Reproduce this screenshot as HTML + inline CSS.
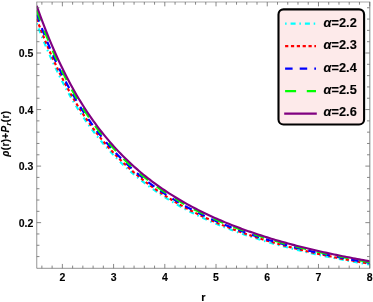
<!DOCTYPE html>
<html><head><meta charset="utf-8"><style>
html,body{margin:0;padding:0;background:#fff;}
text{stroke:#000;stroke-width:0.12px;}
svg{display:block;will-change:transform;font-family:"Liberation Sans",sans-serif;}
</style></head><body>
<svg width="373" height="302" viewBox="0 0 373 302">
<rect width="373" height="302" fill="#fff"/>
<defs><clipPath id="c"><rect x="36.75" y="2.0" width="332.95" height="266.3"/></clipPath></defs>
<g clip-path="url(#c)">
<path d="M36.75 23.28 L38.84 28.82 L40.94 34.21 L43.03 39.45 L45.13 44.56 L47.22 49.52 L49.31 54.36 L51.41 59.07 L53.50 63.65 L55.60 68.12 L57.69 72.46 L59.78 76.69 L61.88 80.81 L63.97 84.82 L66.07 88.73 L68.16 92.53 L70.25 96.23 L72.35 99.84 L74.44 103.35 L76.54 106.78 L78.63 110.11 L80.72 113.36 L82.82 116.53 L84.91 119.62 L87.01 122.63 L89.10 125.57 L91.19 128.44 L93.29 131.23 L95.38 133.96 L97.48 136.63 L99.57 139.23 L101.66 141.77 L103.76 144.25 L105.85 146.67 L107.95 149.04 L110.04 151.35 L112.13 153.61 L114.23 155.82 L116.32 157.98 L118.42 160.10 L120.51 162.16 L122.61 164.19 L124.70 166.17 L126.79 168.10 L128.89 170.00 L130.98 171.86 L133.08 173.67 L135.17 175.45 L137.26 177.20 L139.36 178.91 L141.45 180.58 L143.55 182.22 L145.64 183.83 L147.73 185.41 L149.83 186.95 L151.92 188.47 L154.02 189.95 L156.11 191.41 L158.20 192.84 L160.30 194.25 L162.39 195.62 L164.49 196.98 L166.58 198.30 L168.67 199.61 L170.77 200.88 L172.86 202.14 L174.96 203.37 L177.05 204.59 L179.14 205.78 L181.24 206.95 L183.33 208.10 L185.43 209.23 L187.52 210.34 L189.61 211.43 L191.71 212.50 L193.80 213.56 L195.90 214.59 L197.99 215.62 L200.08 216.62 L202.18 217.61 L204.27 218.58 L206.37 219.53 L208.46 220.47 L210.55 221.40 L212.65 222.31 L214.74 223.21 L216.84 224.09 L218.93 224.96 L221.02 225.82 L223.12 226.66 L225.21 227.49 L227.31 228.31 L229.40 229.11 L231.49 229.91 L233.59 230.69 L235.68 231.46 L237.78 232.22 L239.87 232.96 L241.96 233.70 L244.06 234.43 L246.15 235.14 L248.25 235.85 L250.34 236.55 L252.43 237.23 L254.53 237.91 L256.62 238.58 L258.72 239.24 L260.81 239.88 L262.90 240.53 L265.00 241.16 L267.09 241.78 L269.19 242.40 L271.28 243.00 L273.37 243.60 L275.47 244.19 L277.56 244.78 L279.66 245.35 L281.75 245.92 L283.84 246.48 L285.94 247.03 L288.03 247.58 L290.13 248.12 L292.22 248.65 L294.32 249.18 L296.41 249.70 L298.50 250.21 L300.60 250.72 L302.69 251.22 L304.79 251.72 L306.88 252.21 L308.97 252.69 L311.07 253.17 L313.16 253.64 L315.26 254.10 L317.35 254.56 L319.44 255.02 L321.54 255.47 L323.63 255.91 L325.73 256.35 L327.82 256.79 L329.91 257.22 L332.01 257.64 L334.10 258.06 L336.20 258.48 L338.29 258.89 L340.38 259.29 L342.48 259.69 L344.57 260.09 L346.67 260.48 L348.76 260.87 L350.85 261.26 L352.95 261.64 L355.04 262.01 L357.14 262.38 L359.23 262.75 L361.32 263.12 L363.42 263.48 L365.51 263.83 L367.61 264.19 L369.70 264.53" fill="none" stroke="#00ffff" stroke-width="2.15" stroke-dasharray="1.5 4 5 3.8"/>
<path d="M36.75 18.90 L38.84 24.55 L40.94 30.04 L43.03 35.38 L45.13 40.57 L47.22 45.62 L49.31 50.54 L51.41 55.33 L53.50 60.00 L55.60 64.53 L57.69 68.95 L59.78 73.25 L61.88 77.44 L63.97 81.51 L66.07 85.48 L68.16 89.34 L70.25 93.10 L72.35 96.77 L74.44 100.33 L76.54 103.81 L78.63 107.20 L80.72 110.50 L82.82 113.71 L84.91 116.85 L87.01 119.91 L89.10 122.89 L91.19 125.80 L93.29 128.64 L95.38 131.41 L97.48 134.11 L99.57 136.75 L101.66 139.32 L103.76 141.84 L105.85 144.30 L107.95 146.70 L110.04 149.04 L112.13 151.34 L114.23 153.58 L116.32 155.77 L118.42 157.92 L120.51 160.01 L122.61 162.06 L124.70 164.07 L126.79 166.03 L128.89 167.96 L130.98 169.84 L133.08 171.68 L135.17 173.49 L137.26 175.25 L139.36 176.99 L141.45 178.68 L143.55 180.35 L145.64 181.97 L147.73 183.57 L149.83 185.14 L151.92 186.68 L154.02 188.18 L156.11 189.66 L158.20 191.11 L160.30 192.53 L162.39 193.93 L164.49 195.30 L166.58 196.64 L168.67 197.96 L170.77 199.26 L172.86 200.53 L174.96 201.78 L177.05 203.01 L179.14 204.22 L181.24 205.40 L183.33 206.57 L185.43 207.71 L187.52 208.84 L189.61 209.94 L191.71 211.03 L193.80 212.10 L195.90 213.15 L197.99 214.18 L200.08 215.20 L202.18 216.20 L204.27 217.18 L206.37 218.15 L208.46 219.10 L210.55 220.04 L212.65 220.96 L214.74 221.87 L216.84 222.77 L218.93 223.65 L221.02 224.51 L223.12 225.37 L225.21 226.21 L227.31 227.04 L229.40 227.85 L231.49 228.66 L233.59 229.45 L235.68 230.23 L237.78 231.00 L239.87 231.75 L241.96 232.50 L244.06 233.24 L246.15 233.96 L248.25 234.68 L250.34 235.38 L252.43 236.08 L254.53 236.76 L256.62 237.44 L258.72 238.10 L260.81 238.76 L262.90 239.41 L265.00 240.05 L267.09 240.68 L269.19 241.30 L271.28 241.92 L273.37 242.52 L275.47 243.12 L277.56 243.71 L279.66 244.29 L281.75 244.87 L283.84 245.44 L285.94 246.00 L288.03 246.55 L290.13 247.10 L292.22 247.64 L294.32 248.17 L296.41 248.70 L298.50 249.22 L300.60 249.73 L302.69 250.24 L304.79 250.74 L306.88 251.23 L308.97 251.72 L311.07 252.21 L313.16 252.68 L315.26 253.16 L317.35 253.62 L319.44 254.08 L321.54 254.54 L323.63 254.99 L325.73 255.43 L327.82 255.87 L329.91 256.31 L332.01 256.74 L334.10 257.16 L336.20 257.58 L338.29 258.00 L340.38 258.41 L342.48 258.82 L344.57 259.22 L346.67 259.61 L348.76 260.01 L350.85 260.40 L352.95 260.78 L355.04 261.16 L357.14 261.54 L359.23 261.91 L361.32 262.28 L363.42 262.64 L365.51 263.00 L367.61 263.36 L369.70 263.71" fill="none" stroke="#ff0000" stroke-width="2.15" stroke-dasharray="3.2 2.65"/>
<path d="M36.75 14.53 L38.84 20.28 L40.94 25.87 L43.03 31.30 L45.13 36.58 L47.22 41.72 L49.31 46.73 L51.41 51.60 L53.50 56.34 L55.60 60.95 L57.69 65.44 L59.78 69.81 L61.88 74.06 L63.97 78.20 L66.07 82.23 L68.16 86.15 L70.25 89.97 L72.35 93.69 L74.44 97.32 L76.54 100.85 L78.63 104.28 L80.72 107.63 L82.82 110.90 L84.91 114.08 L87.01 117.18 L89.10 120.21 L91.19 123.16 L93.29 126.04 L95.38 128.85 L97.48 131.59 L99.57 134.27 L101.66 136.88 L103.76 139.43 L105.85 141.92 L107.95 144.36 L110.04 146.74 L112.13 149.06 L114.23 151.34 L116.32 153.56 L118.42 155.73 L120.51 157.86 L122.61 159.94 L124.70 161.97 L126.79 163.96 L128.89 165.91 L130.98 167.82 L133.08 169.69 L135.17 171.52 L137.26 173.31 L139.36 175.06 L141.45 176.78 L143.55 178.47 L145.64 180.12 L147.73 181.74 L149.83 183.33 L151.92 184.88 L154.02 186.41 L156.11 187.91 L158.20 189.38 L160.30 190.82 L162.39 192.23 L164.49 193.62 L166.58 194.98 L168.67 196.32 L170.77 197.63 L172.86 198.92 L174.96 200.19 L177.05 201.43 L179.14 202.65 L181.24 203.85 L183.33 205.03 L185.43 206.19 L187.52 207.33 L189.61 208.45 L191.71 209.55 L193.80 210.64 L195.90 211.70 L197.99 212.75 L200.08 213.78 L202.18 214.79 L204.27 215.79 L206.37 216.77 L208.46 217.73 L210.55 218.68 L212.65 219.62 L214.74 220.54 L216.84 221.44 L218.93 222.33 L221.02 223.21 L223.12 224.08 L225.21 224.93 L227.31 225.77 L229.40 226.59 L231.49 227.41 L233.59 228.21 L235.68 229.00 L237.78 229.77 L239.87 230.54 L241.96 231.30 L244.06 232.04 L246.15 232.78 L248.25 233.50 L250.34 234.21 L252.43 234.92 L254.53 235.61 L256.62 236.30 L258.72 236.97 L260.81 237.64 L262.90 238.29 L265.00 238.94 L267.09 239.58 L269.19 240.21 L271.28 240.83 L273.37 241.45 L275.47 242.05 L277.56 242.65 L279.66 243.24 L281.75 243.82 L283.84 244.40 L285.94 244.96 L288.03 245.52 L290.13 246.08 L292.22 246.62 L294.32 247.16 L296.41 247.70 L298.50 248.22 L300.60 248.74 L302.69 249.26 L304.79 249.76 L306.88 250.26 L308.97 250.76 L311.07 251.25 L313.16 251.73 L315.26 252.21 L317.35 252.68 L319.44 253.15 L321.54 253.61 L323.63 254.06 L325.73 254.51 L327.82 254.96 L329.91 255.40 L332.01 255.83 L334.10 256.26 L336.20 256.69 L338.29 257.11 L340.38 257.52 L342.48 257.94 L344.57 258.34 L346.67 258.74 L348.76 259.14 L350.85 259.54 L352.95 259.93 L355.04 260.31 L357.14 260.69 L359.23 261.07 L361.32 261.44 L363.42 261.81 L365.51 262.17 L367.61 262.54 L369.70 262.89" fill="none" stroke="#0000ff" stroke-width="2.15" stroke-dasharray="7.5 7.1"/>
<path d="M36.75 10.16 L38.84 16.01 L40.94 21.70 L43.03 27.22 L45.13 32.60 L47.22 37.83 L49.31 42.91 L51.41 47.86 L53.50 52.68 L55.60 57.37 L57.69 61.93 L59.78 66.37 L61.88 70.69 L63.97 74.89 L66.07 78.98 L68.16 82.97 L70.25 86.85 L72.35 90.62 L74.44 94.30 L76.54 97.88 L78.63 101.37 L80.72 104.77 L82.82 108.08 L84.91 111.31 L87.01 114.46 L89.10 117.53 L91.19 120.52 L93.29 123.44 L95.38 126.29 L97.48 129.07 L99.57 131.79 L101.66 134.44 L103.76 137.03 L105.85 139.55 L107.95 142.02 L110.04 144.43 L112.13 146.79 L114.23 149.10 L116.32 151.35 L118.42 153.55 L120.51 155.71 L122.61 157.81 L124.70 159.88 L126.79 161.89 L128.89 163.87 L130.98 165.80 L133.08 167.70 L135.17 169.55 L137.26 171.36 L139.36 173.14 L141.45 174.89 L143.55 176.59 L145.64 178.27 L147.73 179.91 L149.83 181.51 L151.92 183.09 L154.02 184.64 L156.11 186.16 L158.20 187.64 L160.30 189.10 L162.39 190.54 L164.49 191.94 L166.58 193.32 L168.67 194.68 L170.77 196.01 L172.86 197.31 L174.96 198.59 L177.05 199.85 L179.14 201.09 L181.24 202.31 L183.33 203.50 L185.43 204.68 L187.52 205.83 L189.61 206.97 L191.71 208.08 L193.80 209.18 L195.90 210.26 L197.99 211.32 L200.08 212.36 L202.18 213.38 L204.27 214.39 L206.37 215.39 L208.46 216.36 L210.55 217.32 L212.65 218.27 L214.74 219.20 L216.84 220.12 L218.93 221.02 L221.02 221.91 L223.12 222.79 L225.21 223.65 L227.31 224.50 L229.40 225.33 L231.49 226.16 L233.59 226.97 L235.68 227.77 L237.78 228.55 L239.87 229.33 L241.96 230.10 L244.06 230.85 L246.15 231.59 L248.25 232.33 L250.34 233.05 L252.43 233.76 L254.53 234.46 L256.62 235.15 L258.72 235.84 L260.81 236.51 L262.90 237.18 L265.00 237.83 L267.09 238.48 L269.19 239.12 L271.28 239.75 L273.37 240.37 L275.47 240.98 L277.56 241.59 L279.66 242.18 L281.75 242.77 L283.84 243.35 L285.94 243.93 L288.03 244.50 L290.13 245.06 L292.22 245.61 L294.32 246.15 L296.41 246.69 L298.50 247.23 L300.60 247.75 L302.69 248.27 L304.79 248.79 L306.88 249.29 L308.97 249.79 L311.07 250.29 L313.16 250.78 L315.26 251.26 L317.35 251.74 L319.44 252.21 L321.54 252.68 L323.63 253.14 L325.73 253.59 L327.82 254.04 L329.91 254.49 L332.01 254.93 L334.10 255.36 L336.20 255.79 L338.29 256.22 L340.38 256.64 L342.48 257.06 L344.57 257.47 L346.67 257.87 L348.76 258.28 L350.85 258.68 L352.95 259.07 L355.04 259.46 L357.14 259.84 L359.23 260.23 L361.32 260.60 L363.42 260.98 L365.51 261.35 L367.61 261.71 L369.70 262.07" fill="none" stroke="#00ff00" stroke-width="2.15" stroke-dasharray="11 10.7"/>
<path d="M36.75 5.79 L38.84 11.74 L40.94 17.52 L43.03 23.14 L45.13 28.61 L47.22 33.93 L49.31 39.10 L51.41 44.13 L53.50 49.02 L55.60 53.78 L57.69 58.42 L59.78 62.93 L61.88 67.31 L63.97 71.58 L66.07 75.74 L68.16 79.78 L70.25 83.72 L72.35 87.55 L74.44 91.28 L76.54 94.92 L78.63 98.46 L80.72 101.90 L82.82 105.27 L84.91 108.54 L87.01 111.73 L89.10 114.85 L91.19 117.88 L93.29 120.85 L95.38 123.74 L97.48 126.56 L99.57 129.31 L101.66 131.99 L103.76 134.62 L105.85 137.18 L107.95 139.68 L110.04 142.13 L112.13 144.52 L114.23 146.85 L116.32 149.14 L118.42 151.37 L120.51 153.55 L122.61 155.69 L124.70 157.78 L126.79 159.82 L128.89 161.83 L130.98 163.78 L133.08 165.70 L135.17 167.58 L137.26 169.42 L139.36 171.22 L141.45 172.99 L143.55 174.72 L145.64 176.41 L147.73 178.07 L149.83 179.70 L151.92 181.30 L154.02 182.87 L156.11 184.40 L158.20 185.91 L160.30 187.39 L162.39 188.84 L164.49 190.26 L166.58 191.66 L168.67 193.03 L170.77 194.38 L172.86 195.70 L174.96 197.00 L177.05 198.28 L179.14 199.53 L181.24 200.76 L183.33 201.97 L185.43 203.16 L187.52 204.33 L189.61 205.48 L191.71 206.61 L193.80 207.72 L195.90 208.81 L197.99 209.88 L200.08 210.94 L202.18 211.98 L204.27 213.00 L206.37 214.00 L208.46 214.99 L210.55 215.97 L212.65 216.92 L214.74 217.87 L216.84 218.79 L218.93 219.71 L221.02 220.61 L223.12 221.49 L225.21 222.37 L227.31 223.23 L229.40 224.07 L231.49 224.91 L233.59 225.73 L235.68 226.54 L237.78 227.33 L239.87 228.12 L241.96 228.89 L244.06 229.66 L246.15 230.41 L248.25 231.15 L250.34 231.88 L252.43 232.60 L254.53 233.31 L256.62 234.01 L258.72 234.71 L260.81 235.39 L262.90 236.06 L265.00 236.72 L267.09 237.38 L269.19 238.02 L271.28 238.66 L273.37 239.29 L275.47 239.91 L277.56 240.52 L279.66 241.13 L281.75 241.72 L283.84 242.31 L285.94 242.89 L288.03 243.47 L290.13 244.03 L292.22 244.59 L294.32 245.15 L296.41 245.69 L298.50 246.23 L300.60 246.76 L302.69 247.29 L304.79 247.81 L306.88 248.32 L308.97 248.83 L311.07 249.33 L313.16 249.82 L315.26 250.31 L317.35 250.80 L319.44 251.27 L321.54 251.75 L323.63 252.21 L325.73 252.67 L327.82 253.13 L329.91 253.58 L332.01 254.02 L334.10 254.46 L336.20 254.90 L338.29 255.33 L340.38 255.76 L342.48 256.18 L344.57 256.59 L346.67 257.01 L348.76 257.41 L350.85 257.82 L352.95 258.21 L355.04 258.61 L357.14 259.00 L359.23 259.38 L361.32 259.76 L363.42 260.14 L365.51 260.52 L367.61 260.89 L369.70 261.25" fill="none" stroke="#800080" stroke-width="2.15"/>
</g>
<g stroke="#666" fill="none">
<path d="M36.75 2.0H369.7" stroke-width="0.56"/>
<path d="M36.75 1.72V268.3H369.7" stroke-width="0.7"/>
<line x1="369.82" y1="1.72" x2="369.82" y2="268.58" stroke-width="0.8"/>
<g stroke-width="0.78">
<line x1="41.87" y1="268.3" x2="41.87" y2="265.6"/>
<line x1="41.87" y1="2.0" x2="41.87" y2="4.7"/>
<line x1="52.12" y1="268.3" x2="52.12" y2="265.6"/>
<line x1="52.12" y1="2.0" x2="52.12" y2="4.7"/>
<line x1="62.36" y1="268.3" x2="62.36" y2="263.95"/>
<line x1="62.36" y1="2.0" x2="62.36" y2="6.35"/>
<line x1="72.61" y1="268.3" x2="72.61" y2="265.6"/>
<line x1="72.61" y1="2.0" x2="72.61" y2="4.7"/>
<line x1="82.85" y1="268.3" x2="82.85" y2="265.6"/>
<line x1="82.85" y1="2.0" x2="82.85" y2="4.7"/>
<line x1="93.10" y1="268.3" x2="93.10" y2="265.6"/>
<line x1="93.10" y1="2.0" x2="93.10" y2="4.7"/>
<line x1="103.34" y1="268.3" x2="103.34" y2="265.6"/>
<line x1="103.34" y1="2.0" x2="103.34" y2="4.7"/>
<line x1="113.58" y1="268.3" x2="113.58" y2="263.95"/>
<line x1="113.58" y1="2.0" x2="113.58" y2="6.35"/>
<line x1="123.83" y1="268.3" x2="123.83" y2="265.6"/>
<line x1="123.83" y1="2.0" x2="123.83" y2="4.7"/>
<line x1="134.07" y1="268.3" x2="134.07" y2="265.6"/>
<line x1="134.07" y1="2.0" x2="134.07" y2="4.7"/>
<line x1="144.32" y1="268.3" x2="144.32" y2="265.6"/>
<line x1="144.32" y1="2.0" x2="144.32" y2="4.7"/>
<line x1="154.56" y1="268.3" x2="154.56" y2="265.6"/>
<line x1="154.56" y1="2.0" x2="154.56" y2="4.7"/>
<line x1="164.81" y1="268.3" x2="164.81" y2="263.95"/>
<line x1="164.81" y1="2.0" x2="164.81" y2="6.35"/>
<line x1="175.05" y1="268.3" x2="175.05" y2="265.6"/>
<line x1="175.05" y1="2.0" x2="175.05" y2="4.7"/>
<line x1="185.30" y1="268.3" x2="185.30" y2="265.6"/>
<line x1="185.30" y1="2.0" x2="185.30" y2="4.7"/>
<line x1="195.54" y1="268.3" x2="195.54" y2="265.6"/>
<line x1="195.54" y1="2.0" x2="195.54" y2="4.7"/>
<line x1="205.79" y1="268.3" x2="205.79" y2="265.6"/>
<line x1="205.79" y1="2.0" x2="205.79" y2="4.7"/>
<line x1="216.03" y1="268.3" x2="216.03" y2="263.95"/>
<line x1="216.03" y1="2.0" x2="216.03" y2="6.35"/>
<line x1="226.28" y1="268.3" x2="226.28" y2="265.6"/>
<line x1="226.28" y1="2.0" x2="226.28" y2="4.7"/>
<line x1="236.52" y1="268.3" x2="236.52" y2="265.6"/>
<line x1="236.52" y1="2.0" x2="236.52" y2="4.7"/>
<line x1="246.76" y1="268.3" x2="246.76" y2="265.6"/>
<line x1="246.76" y1="2.0" x2="246.76" y2="4.7"/>
<line x1="257.01" y1="268.3" x2="257.01" y2="265.6"/>
<line x1="257.01" y1="2.0" x2="257.01" y2="4.7"/>
<line x1="267.25" y1="268.3" x2="267.25" y2="263.95"/>
<line x1="267.25" y1="2.0" x2="267.25" y2="6.35"/>
<line x1="277.50" y1="268.3" x2="277.50" y2="265.6"/>
<line x1="277.50" y1="2.0" x2="277.50" y2="4.7"/>
<line x1="287.74" y1="268.3" x2="287.74" y2="265.6"/>
<line x1="287.74" y1="2.0" x2="287.74" y2="4.7"/>
<line x1="297.99" y1="268.3" x2="297.99" y2="265.6"/>
<line x1="297.99" y1="2.0" x2="297.99" y2="4.7"/>
<line x1="308.23" y1="268.3" x2="308.23" y2="265.6"/>
<line x1="308.23" y1="2.0" x2="308.23" y2="4.7"/>
<line x1="318.48" y1="268.3" x2="318.48" y2="263.95"/>
<line x1="318.48" y1="2.0" x2="318.48" y2="6.35"/>
<line x1="328.72" y1="268.3" x2="328.72" y2="265.6"/>
<line x1="328.72" y1="2.0" x2="328.72" y2="4.7"/>
<line x1="338.97" y1="268.3" x2="338.97" y2="265.6"/>
<line x1="338.97" y1="2.0" x2="338.97" y2="4.7"/>
<line x1="349.21" y1="268.3" x2="349.21" y2="265.6"/>
<line x1="349.21" y1="2.0" x2="349.21" y2="4.7"/>
<line x1="359.46" y1="268.3" x2="359.46" y2="265.6"/>
<line x1="359.46" y1="2.0" x2="359.46" y2="4.7"/>
<line x1="369.70" y1="268.3" x2="369.70" y2="263.95"/>
<line x1="369.70" y1="2.0" x2="369.70" y2="6.35"/>
<line x1="36.75" y1="256.58" x2="39.45" y2="256.58"/>
<line x1="369.7" y1="256.58" x2="367.0" y2="256.58"/>
<line x1="36.75" y1="245.27" x2="39.45" y2="245.27"/>
<line x1="369.7" y1="245.27" x2="367.0" y2="245.27"/>
<line x1="36.75" y1="233.96" x2="39.45" y2="233.96"/>
<line x1="369.7" y1="233.96" x2="367.0" y2="233.96"/>
<line x1="36.75" y1="222.65" x2="41.1" y2="222.65"/>
<line x1="369.7" y1="222.65" x2="365.34999999999997" y2="222.65"/>
<line x1="36.75" y1="211.34" x2="39.45" y2="211.34"/>
<line x1="369.7" y1="211.34" x2="367.0" y2="211.34"/>
<line x1="36.75" y1="200.03" x2="39.45" y2="200.03"/>
<line x1="369.7" y1="200.03" x2="367.0" y2="200.03"/>
<line x1="36.75" y1="188.72" x2="39.45" y2="188.72"/>
<line x1="369.7" y1="188.72" x2="367.0" y2="188.72"/>
<line x1="36.75" y1="177.41" x2="39.45" y2="177.41"/>
<line x1="369.7" y1="177.41" x2="367.0" y2="177.41"/>
<line x1="36.75" y1="166.10" x2="41.1" y2="166.10"/>
<line x1="369.7" y1="166.10" x2="365.34999999999997" y2="166.10"/>
<line x1="36.75" y1="154.79" x2="39.45" y2="154.79"/>
<line x1="369.7" y1="154.79" x2="367.0" y2="154.79"/>
<line x1="36.75" y1="143.48" x2="39.45" y2="143.48"/>
<line x1="369.7" y1="143.48" x2="367.0" y2="143.48"/>
<line x1="36.75" y1="132.17" x2="39.45" y2="132.17"/>
<line x1="369.7" y1="132.17" x2="367.0" y2="132.17"/>
<line x1="36.75" y1="120.86" x2="39.45" y2="120.86"/>
<line x1="369.7" y1="120.86" x2="367.0" y2="120.86"/>
<line x1="36.75" y1="109.55" x2="41.1" y2="109.55"/>
<line x1="369.7" y1="109.55" x2="365.34999999999997" y2="109.55"/>
<line x1="36.75" y1="98.24" x2="39.45" y2="98.24"/>
<line x1="369.7" y1="98.24" x2="367.0" y2="98.24"/>
<line x1="36.75" y1="86.93" x2="39.45" y2="86.93"/>
<line x1="369.7" y1="86.93" x2="367.0" y2="86.93"/>
<line x1="36.75" y1="75.62" x2="39.45" y2="75.62"/>
<line x1="369.7" y1="75.62" x2="367.0" y2="75.62"/>
<line x1="36.75" y1="64.31" x2="39.45" y2="64.31"/>
<line x1="369.7" y1="64.31" x2="367.0" y2="64.31"/>
<line x1="36.75" y1="53.00" x2="41.1" y2="53.00"/>
<line x1="369.7" y1="53.00" x2="365.34999999999997" y2="53.00"/>
<line x1="36.75" y1="41.69" x2="39.45" y2="41.69"/>
<line x1="369.7" y1="41.69" x2="367.0" y2="41.69"/>
<line x1="36.75" y1="30.38" x2="39.45" y2="30.38"/>
<line x1="369.7" y1="30.38" x2="367.0" y2="30.38"/>
<line x1="36.75" y1="19.07" x2="39.45" y2="19.07"/>
<line x1="369.7" y1="19.07" x2="367.0" y2="19.07"/>
<line x1="36.75" y1="7.76" x2="39.45" y2="7.76"/>
<line x1="369.7" y1="7.76" x2="367.0" y2="7.76"/>
</g>
</g>
<g font-size="10.5" font-weight="bold" fill="#000">
<text x="62.36" y="281" text-anchor="middle">2</text>
<text x="113.58" y="281" text-anchor="middle">3</text>
<text x="164.81" y="281" text-anchor="middle">4</text>
<text x="216.03" y="281" text-anchor="middle">5</text>
<text x="267.25" y="281" text-anchor="middle">6</text>
<text x="318.48" y="281" text-anchor="middle">7</text>
<text x="369.70" y="281" text-anchor="middle">8</text>
<text x="33.4" y="226.85" text-anchor="end">0.2</text>
<text x="33.4" y="170.30" text-anchor="end">0.3</text>
<text x="33.4" y="113.75" text-anchor="end">0.4</text>
<text x="33.4" y="57.20" text-anchor="end">0.5</text>
</g>
<text x="203.4" y="300.5" font-size="11" font-weight="bold" text-anchor="middle" fill="#000">r</text>
<text transform="translate(9.4,133.6) rotate(-90)" font-size="10" letter-spacing="0.36" font-weight="bold" text-anchor="middle" fill="#000"><tspan font-style="italic">ρ</tspan>(r)+<tspan font-style="italic">P</tspan><tspan font-style="italic" font-size="7.4" dy="2">r</tspan><tspan dy="-2">(r)</tspan></text>
<rect x="278.5" y="9.4" width="85.60000000000002" height="115.1" rx="5" ry="5" fill="#fdeaea" stroke="#000" stroke-width="2.1"/>
<line x1="285.1" y1="23.65" x2="316.0" y2="23.65" stroke="#00ffff" stroke-width="2.2" stroke-dasharray="1.5 4 5 3.8"/>
<text x="323.6" y="26.85" font-size="12.8" font-weight="bold"><tspan font-style="italic">α</tspan>=2.2</text>
<line x1="285.1" y1="46.12" x2="316.0" y2="46.12" stroke="#ff0000" stroke-width="2.2" stroke-dasharray="3.2 2.65"/>
<text x="323.6" y="49.18" font-size="12.8" font-weight="bold"><tspan font-style="italic">α</tspan>=2.3</text>
<line x1="285.1" y1="68.59" x2="316.0" y2="68.59" stroke="#0000ff" stroke-width="2.2" stroke-dasharray="7.5 7.1"/>
<text x="323.6" y="71.51" font-size="12.8" font-weight="bold"><tspan font-style="italic">α</tspan>=2.4</text>
<line x1="285.1" y1="91.06" x2="316.0" y2="91.06" stroke="#00ff00" stroke-width="2.2" stroke-dasharray="11 10.7"/>
<text x="323.6" y="93.84" font-size="12.8" font-weight="bold"><tspan font-style="italic">α</tspan>=2.5</text>
<line x1="284.2" y1="113.53" x2="316.8" y2="113.53" stroke="#800080" stroke-width="2.2"/>
<text x="323.6" y="116.17" font-size="12.8" font-weight="bold"><tspan font-style="italic">α</tspan>=2.6</text>
</svg>
</body></html>
